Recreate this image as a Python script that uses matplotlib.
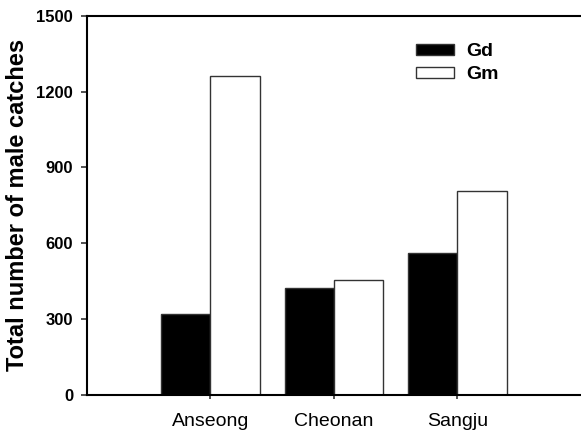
import matplotlib
matplotlib.use("Agg")
import matplotlib.pyplot as plt
import numpy as np

sites = ['Anseong', 'Cheonan', 'Sangju']
gd_catches = [322, 422, 562]
gm_catches = [1262, 455, 806]
y_ticks = [0, 300, 600, 900, 1200, 1500]

plt.rcParams['font.family'] = ['Liberation Sans', 'DejaVu Sans']

fig = plt.figure(figsize=(5.81, 4.37), dpi=100)
ax = fig.add_axes([0.1497, 0.0961, 0.8503, 0.868])

x = np.arange(len(sites))
w = 0.4
ax.bar(x - w / 2, gd_catches, w, color='black', edgecolor='#333333', linewidth=1, label='Gd')
ax.bar(x + w / 2, gm_catches, w, color='white', edgecolor='#333333', linewidth=1, label='Gm')

ax.set_xlim(-1, 3)
ax.set_ylim(0, 1500)
ax.set_xticks(x)
ax.set_xticklabels(sites, fontsize=14)
ax.set_yticks(y_ticks)
ax.set_yticklabels([str(t) for t in y_ticks], fontsize=12, fontweight='bold')
ax.tick_params(axis='both', direction='out', length=4, width=1.2, color='#333333')
ax.tick_params(axis='x', length=3, pad=10)
ax.tick_params(axis='y', pad=6)

ax.set_ylabel('Total number of male catches', fontsize=17, fontweight='bold', labelpad=5)

ax.spines['right'].set_visible(False)
for s in ['left', 'bottom', 'top']:
    ax.spines[s].set_linewidth(1.5)
    ax.spines[s].set_color('black')

leg = ax.legend(loc='upper left', bbox_to_anchor=(0.666, 0.927), frameon=False,
                prop={'size': 14, 'weight': 'bold'}, handlelength=1.96, handleheight=0.52,
                handletextpad=0.65, labelspacing=0.3, borderpad=0, borderaxespad=0)

fig.savefig('out.png', dpi=100)
